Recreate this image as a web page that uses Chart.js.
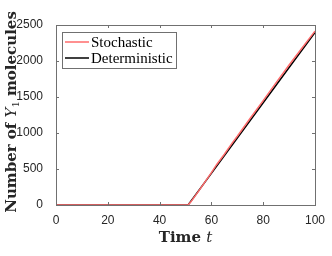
<!DOCTYPE html>
<html>
<head>
<meta charset="utf-8">
<script src="https://cdn.jsdelivr.net/npm/chart.js@4"></script>
<style>
  html, body { margin: 0; padding: 0; background: #fff; }
  #wrap { width: 332px; height: 256px; }
</style>
</head>
<body>
<div id="wrap"><canvas id="yChart" width="332" height="256"></canvas></div>
<script>
// time points and molecule counts
var detTime = [0, 10, 20, 30, 40, 51, 60, 70, 80, 90, 100];
var detValues = [0, 0, 0, 0, 0, 0, 440, 930, 1420, 1910, 2395];

var stoTime = [0, 10, 20, 30, 40, 51, 52, 55, 58, 60, 62, 65, 68, 70, 75, 80, 85, 90, 95, 100];
var stoValues = [0, 0, 0, 0, 0, 0, 40, 190, 345, 450, 560, 705, 860, 955, 1205, 1450, 1700, 1945, 2180, 2415];

var xTicks = [0, 20, 40, 60, 80, 100];
var yTicks = [0, 500, 1000, 1500, 2000, 2500];

var seriesLabels = ['Stochastic', 'Deterministic'];
var seriesColors = ['#ff6b6b', '#000000'];

function toPoints(xs, ys) {
    return xs.map(function (x, i) { return { x: x, y: ys[i] }; });
}

// frame, inward ticks, axis titles and legend box (MATLAB style)
var matlabAxes = {
    id: 'matlabAxes',
    afterDraw: function (chart) {
        var ctx = chart.ctx;
        var a = chart.chartArea;
        var xs = chart.scales.x, ys = chart.scales.y;
        ctx.save();
        ctx.strokeStyle = '#707070';
        ctx.lineWidth = 1;
        ctx.strokeRect(Math.round(a.left) + 0.5, Math.round(a.top) + 0.5,
            Math.round(a.right - a.left), Math.round(a.bottom - a.top));
        ctx.beginPath();
        xTicks.forEach(function (v) {
            var px = Math.round(xs.getPixelForValue(v)) + 0.5;
            ctx.moveTo(px, a.bottom); ctx.lineTo(px, a.bottom - 3);
            ctx.moveTo(px, a.top); ctx.lineTo(px, a.top + 3);
        });
        yTicks.forEach(function (v) {
            var py = Math.round(ys.getPixelForValue(v)) + 0.5;
            ctx.moveTo(a.left, py); ctx.lineTo(a.left + 3, py);
            ctx.moveTo(a.right, py); ctx.lineTo(a.right - 3, py);
        });
        ctx.stroke();

        // x title: "Time t"
        ctx.fillStyle = '#262626';
        ctx.textBaseline = 'alphabetic';
        var bold = 'bold 15px "DejaVu Serif"';
        var ital = 'italic 15px "DejaVu Serif"';
        ctx.font = bold;
        var w1 = ctx.measureText('Time ').width;
        ctx.font = ital;
        var w2 = ctx.measureText('t').width;
        var cx = (a.left + a.right) / 2;
        var sx = cx - (w1 + w2) / 2;
        ctx.font = bold;
        ctx.textAlign = 'left';
        ctx.fillText('Time ', sx, 242);
        ctx.font = ital;
        ctx.fillText('t', sx + w1, 242);

        // y title: "Number of Y1 molecules"
        ctx.save();
        ctx.translate(16, 112);
        ctx.rotate(-Math.PI / 2);
        var parts = [
            { t: 'Number of ', f: bold, dy: 0 },
            { t: 'Y', f: ital, dy: 0 },
            { t: '1', f: '10px "DejaVu Serif"', dy: 3 },
            { t: ' molecules', f: bold, dy: 0 }
        ];
        var total = 0;
        parts.forEach(function (p) { ctx.font = p.f; p.w = ctx.measureText(p.t).width; total += p.w; });
        var px = -total / 2;
        parts.forEach(function (p) {
            ctx.font = p.f;
            ctx.fillText(p.t, px, p.dy);
            px += p.w;
        });
        ctx.restore();

        // legend box
        var lx = a.left + 6, ly = a.top + 7, lw = 114, lh = 36;
        ctx.fillStyle = '#ffffff';
        ctx.fillRect(lx, ly, lw, lh);
        ctx.strokeStyle = '#707070';
        ctx.strokeRect(lx + 0.5, ly + 0.5, lw, lh);
        ctx.font = '15px "Liberation Serif"';
        ctx.textBaseline = 'middle';
        chart.data.datasets.forEach(function (ds, i) {
            var yy = ly + 10 + i * 16;
            ctx.strokeStyle = ds.borderColor;
            ctx.lineWidth = 1.5;
            ctx.beginPath();
            ctx.moveTo(lx + 3, yy); ctx.lineTo(lx + 27, yy);
            ctx.stroke();
            ctx.fillStyle = '#000000';
            ctx.fillText(ds.label, lx + 29, yy + 1);
        });
        ctx.restore();
    }
};

var ctx = document.getElementById('yChart').getContext('2d');
var yChart = new Chart(ctx, {
    type: 'line',
    data: {
        datasets: [{
            label: seriesLabels[0],
            data: toPoints(stoTime, stoValues),
            borderColor: seriesColors[0],
            borderWidth: 1.5,
            pointRadius: 0,
            tension: 0
        }, {
            label: seriesLabels[1],
            data: toPoints(detTime, detValues),
            borderColor: seriesColors[1],
            borderWidth: 1.5,
            pointRadius: 0,
            tension: 0
        }]
    },
    options: {
        responsive: false,
        animation: false,
        layout: { padding: { left: 0, right: 17, top: 25, bottom: 0 } },
        plugins: { legend: { display: false }, tooltip: { enabled: false } },
        scales: {
            x: {
                type: 'linear',
                min: 0,
                max: 100,
                afterFit: function (s) { s.height = 51; },
                afterBuildTicks: function (s) { s.ticks = xTicks.map(function (v) { return { value: v }; }); },
                grid: { display: false },
                border: { display: false },
                ticks: { color: '#262626', font: { family: '"Liberation Sans"', size: 12 }, padding: 0, maxRotation: 0,
                    callback: function (v) { return String(v); } }
            },
            y: {
                min: 0,
                max: 2500,
                afterFit: function (s) { s.width = 56; },
                afterBuildTicks: function (s) { s.ticks = yTicks.map(function (v) { return { value: v }; }); },
                grid: { display: false },
                border: { display: false },
                ticks: { color: '#262626', font: { family: '"Liberation Sans"', size: 12 }, padding: 5,
                    callback: function (v) { return String(v); } }
            }
        }
    },
    plugins: [matlabAxes]
});
</script>
</body>
</html>
